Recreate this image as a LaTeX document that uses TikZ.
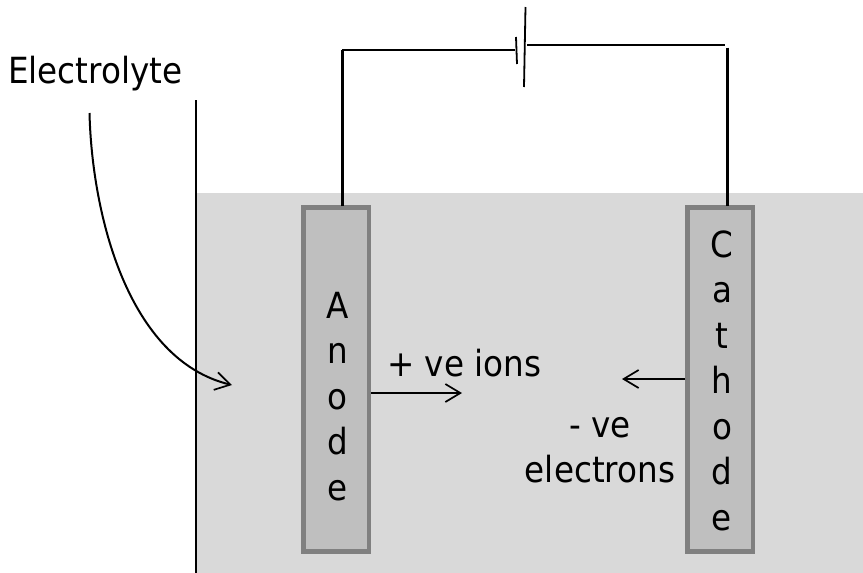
\documentclass[tikz,border=0pt]{standalone}
\usepackage{fontspec}
\setmainfont[FakeStretch=0.906]{DejaVu Sans}
\usetikzlibrary{arrows.meta}
\definecolor{liquid}{HTML}{D9D9D9}
\definecolor{plate}{HTML}{BFBFBF}
\definecolor{plateedge}{HTML}{808080}
\begin{document}
\begin{tikzpicture}[x=1pt,y=-1pt,
  electrode/.style={draw=plateedge,fill=plate,line width=4.5pt,minimum width=65.5pt,minimum height=344pt,inner sep=0pt},
  label/.style={font=\fontsize{36pt}{40pt}\selectfont,inner sep=0pt,align=center,text=black},
  stack/.style={font=\fontsize{36pt}{45.5pt}\selectfont,inner sep=0pt,align=center,text=black},
  wirethick/.style={line width=3pt,black},
  wirethin/.style={line width=1.8pt,black},
  flow/.style={line width=1.7pt,black,-{Straight Barb[length=15pt,width=18pt,line width=1.7pt]}},
  bentflow/.style={line width=2pt,black,-{Straight Barb[length=15pt,width=18pt,line width=1.7pt]}}]
\useasboundingbox (0,0) rectangle (863,573);
\fill[liquid] (196,193) rectangle (863,573);
\coordinate (wallt) at (196,100);
\coordinate (wallb) at (196,573);
\draw[line width=1.4pt,black] (wallt) -- (wallb);
\node[electrode] (anode) at (336,379.5) {};
\node[electrode] (cathode) at (720,379.5) {};
\node[stack,anchor=base] (anodetext) at (337.5,500) {A\\n\\o\\d\\e};
\node[stack,anchor=base] (cathodetext) at (722,530) {C\\a\\t\\h\\o\\d\\e};
\coordinate (ca) at (342,50);
\coordinate (cb) at (515,50);
\coordinate (p1t) at (516,37);
\coordinate (p1b) at (517,64);
\coordinate (p2t) at (525.5,7);
\coordinate (p2b) at (524,87);
\coordinate (cc) at (527,45);
\coordinate (cd) at (725,45);
\coordinate (ce) at (727,47.5);
\coordinate (af) at (342,206);
\coordinate (cf) at (727,206);
\draw[wirethick] (af) -- (ca);
\draw[wirethin] (ca) -- (cb);
\draw[wirethin] (p1t) -- (p1b);
\draw[wirethin] (p2t) -- (p2b);
\draw[wirethin] (cc) -- (cd);
\draw[wirethick] (ce) -- (cf);
\node[label,anchor=base west] (elec) at (8,83) {Electrolyte};
\coordinate (ea) at (89.5,113);
\coordinate (eb) at (232,385);
\draw[bentflow] (ea) .. controls (92,215) and (128,360) .. (eb);
\node[label,anchor=base west] (ions) at (387,376) {+ ve ions};
\node[label,anchor=base] (neg) at (600,437) {- ve};
\node[label,anchor=base] (electrons) at (600,482) {electrons};
\coordinate (ionsend) at (462,393);
\coordinate (elecend) at (622,379);
\draw[flow] (anode.east |- ionsend) -- (ionsend);
\draw[flow] (cathode.west |- elecend) -- (elecend);
\end{tikzpicture}
\end{document}
